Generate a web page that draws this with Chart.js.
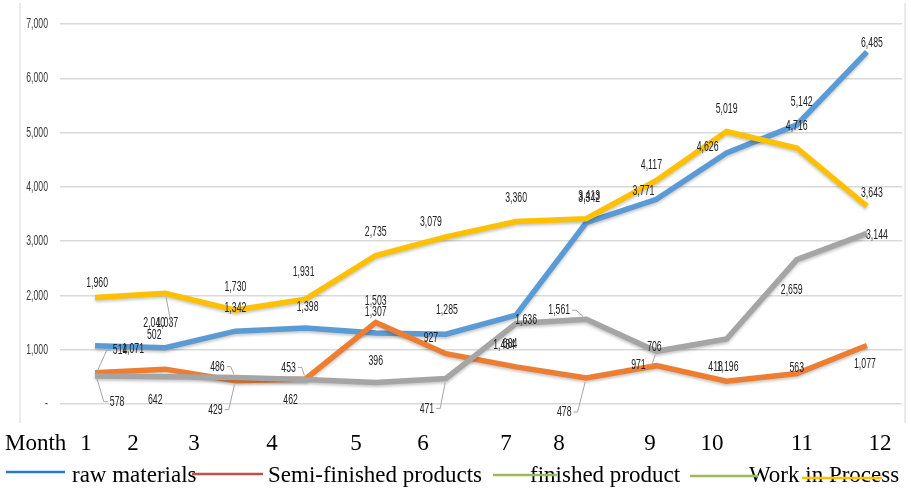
<!DOCTYPE html>
<html>
<head>
<meta charset="utf-8">
<script src="https://cdn.jsdelivr.net/npm/chart.js@4.4.1/dist/chart.umd.min.js"></script>
<style>
  html, body { margin: 0; padding: 0; background: #fff; }
  #stockChart { display: block; }
</style>
</head>
<body>
<canvas id="stockChart" width="911" height="489"></canvas>
<script>
    // monthly inventory by category
    const months = ['1', '2', '3', '4', '5', '6', '7', '8', '9', '10', '11', '12'];
    const rawMaterials = [1071, 1037, 1342, 1398, 1307, 1285, 1636, 3342, 3771, 4626, 5142, 6485];
    const semiFinished = [578, 642, 429, 462, 1503, 927, 684, 478, 706, 418, 563, 1077];
    const finishedProduct = [514, 502, 486, 453, 396, 471, 1484, 1561, 971, 1196, 2659, 3144];
    const workInProcess = [1960, 2040, 1730, 1931, 2735, 3079, 3360, 3413, 4117, 5019, 4716, 3643];
    const seriesNames = ['raw materials', 'Semi-finished products', 'finished product', 'Work in Process'];
    const yTicks = [0, 1000, 2000, 3000, 4000, 5000, 6000, 7000];

    const lineColors = ['#5b9bd5', '#ed7d31', '#a5a5a5', '#ffc000'];

    // where each value label sits relative to its point (dx, dy)
    const labelShift = [
        [[38, 3], [2, -25], [0, -23], [2, -21], [0, -21], [1, -24], [10, 5], [3, -25], [-13, -8], [-19, -6], [5, -23], [5, -9]],
        [[22, 29], [-10, 31], [-20, 29], [-15, 21], [0, -22], [-15, -16], [-6, -23], [-22, 34], [-2, -19], [-11, -14], [0, -6], [-2, 18]],
        [[25, -26], [-11, -42], [-18, -11], [-17, -12], [0, -22], [-19, 30], [-12, 21], [-27, -9], [-18, 14], [1, 28], [-5, 30], [10, 2]],
        [[2, -15], [-11, 30], [0, -23], [-2, -27], [0, -24], [-15, -15], [0, -24], [3, -23], [-5, -16], [0, -23], [0, -22], [5, -13]]
    ];
    // labels that get a leader line back to their point
    const leaders = [[1, 0], [1, 2], [1, 7], [2, 0], [2, 2], [2, 3], [2, 5], [2, 7], [2, 8], [3, 1]];

    const monthRowX = [86, 133, 194, 272, 356, 423, 506, 559, 650, 712, 802, 880];

    function fmt(v) {
        return v === 0 ? '-' : v.toLocaleString('en-US');
    }

    function squishText(ctx, text, x, y, sx) {
        ctx.save();
        ctx.translate(x, y);
        ctx.scale(sx, 1);
        ctx.fillText(text, 0, 0);
        ctx.restore();
    }

    const extras = {
        id: 'extras',
        beforeDraw(chart) {
            const ctx = chart.ctx;
            ctx.save();
            ctx.fillStyle = '#fff';
            ctx.fillRect(0, 0, chart.width, chart.height);
            ctx.strokeStyle = '#e4e4e4';
            ctx.lineWidth = 1.5;
            ctx.beginPath();
            ctx.moveTo(20, 3); ctx.lineTo(20, 423);
            ctx.moveTo(905, 3); ctx.lineTo(905, 423);
            ctx.stroke();

            // y axis labels, squeezed like the rest of the plot text
            const y = chart.scales.y;
            ctx.fillStyle = '#3a3a3a';
            ctx.font = '15px "Liberation Sans", sans-serif';
            ctx.textAlign = 'right';
            ctx.textBaseline = 'middle';
            yTicks.forEach(v => {
                squishText(ctx, fmt(v), 48, y.getPixelForValue(v), 0.58);
            });
            ctx.restore();
        },
        beforeDatasetsDraw(chart) {
            const ctx = chart.ctx;
            ctx.save();
            ctx.shadowColor = 'rgba(0,0,0,0.22)';
            ctx.shadowBlur = 3;
            ctx.shadowOffsetY = 2;
        },
        afterDatasetsDraw(chart) {
            const ctx = chart.ctx;
            ctx.restore();
            ctx.save();
            ctx.font = '15px "Liberation Sans", sans-serif';
            ctx.textAlign = 'center';
            ctx.textBaseline = 'middle';

            const isLeader = (d, i) => leaders.some(l => l[0] === d && l[1] === i);

            chart.data.datasets.forEach((ds, d) => {
                const meta = chart.getDatasetMeta(d);
                meta.data.forEach((pt, i) => {
                    const lx = pt.x + labelShift[d][i][0];
                    const ly = pt.y + labelShift[d][i][1];
                    const text = fmt(ds.data[i]);
                    if (isLeader(d, i)) {
                        const half = ctx.measureText(text).width * 0.58 / 2 + 2;
                        const sx = pt.x > lx ? lx + half : lx - half;
                        const stub = pt.x > lx ? sx + 4 : sx - 4;
                        const ang = Math.atan2(pt.y - ly, pt.x - stub);
                        ctx.strokeStyle = '#a6a6a6';
                        ctx.lineWidth = 1;
                        ctx.beginPath();
                        ctx.moveTo(sx, ly);
                        ctx.lineTo(stub, ly);
                        ctx.lineTo(pt.x - Math.cos(ang) * 4, pt.y - Math.sin(ang) * 4);
                        ctx.stroke();
                    }
                    ctx.fillStyle = '#222';
                    squishText(ctx, text, lx, ly, 0.58);
                });
            });
            ctx.restore();
        },
        afterDraw(chart) {
            const ctx = chart.ctx;
            ctx.save();
            ctx.fillStyle = '#000';
            ctx.font = '23px "Liberation Serif", "Times New Roman", serif';
            ctx.textBaseline = 'alphabetic';

            ctx.textAlign = 'left';
            ctx.fillText('Month', 5, 450);
            ctx.textAlign = 'center';
            months.forEach((m, i) => ctx.fillText(m, monthRowX[i], 450));

            // legend row
            ctx.textAlign = 'left';
            ctx.fillText(seriesNames[0], 72, 482);
            ctx.fillText(seriesNames[1], 268, 482);
            ctx.fillText(seriesNames[2], 530, 482);
            ctx.fillText(seriesNames[3], 749, 482);

            const swatches = [
                [6, 65, 472, '#2a7bd0'],
                [192, 263, 474, '#c0504d'],
                [493, 557, 475, '#9bbb59'],
                [690, 758, 476, '#9bbb59'],
                [802, 882, 478, '#ffc000']
            ];
            ctx.lineWidth = 2.5;
            swatches.forEach(s => {
                ctx.strokeStyle = s[3];
                ctx.beginPath();
                ctx.moveTo(s[0], s[2]);
                ctx.lineTo(s[1], s[2]);
                ctx.stroke();
            });
            ctx.restore();
        }
    };

    const series = [rawMaterials, semiFinished, finishedProduct, workInProcess];
    const drawOrder = [3, 2, 1, 0];

    const stockChart = new Chart(document.getElementById('stockChart'), {
        type: 'line',
        data: {
            labels: months,
            datasets: series.map((vals, k) => ({
                label: seriesNames[k],
                data: vals,
                borderColor: lineColors[k],
                backgroundColor: lineColors[k],
                borderWidth: 5.5,
                pointRadius: 0,
                tension: 0,
                order: drawOrder[k]
            }))
        },
        options: {
            responsive: false,
            animation: false,
            devicePixelRatio: 1,
            layout: { padding: { left: 0, top: 24, right: 9, bottom: 85 } },
            plugins: {
                legend: { display: false },
                tooltip: { enabled: false }
            },
            scales: {
                x: {
                    display: false,
                    offset: true
                },
                y: {
                    min: 0,
                    max: 7000,
                    afterFit: s => { s.width = 60; },
                    border: { display: false },
                    grid: { color: '#d9d9d9', lineWidth: 1.5, drawTicks: false },
                    ticks: { stepSize: 1000, display: false }
                }
            }
        },
        plugins: [extras]
    });
</script>
</body>
</html>
